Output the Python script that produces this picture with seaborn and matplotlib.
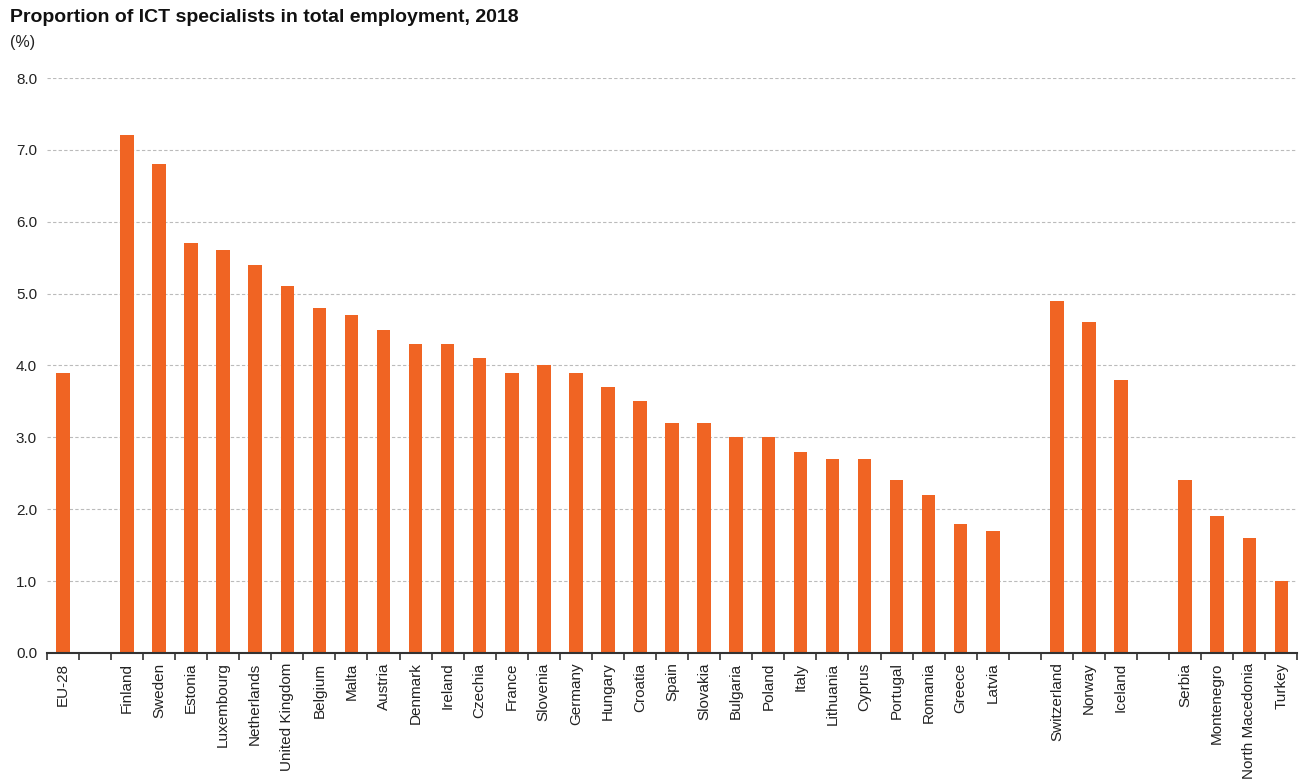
import numpy as np
import pandas as pd
import matplotlib.pyplot as plt
import seaborn as sns

# Data
eu = ["EU-28"]
eu_vals = [3.9]
members = ["Finland", "Sweden", "Estonia", "Luxembourg", "Netherlands", "United Kingdom",
           "Belgium", "Malta", "Austria", "Denmark", "Ireland", "Czechia", "France",
           "Slovenia", "Germany", "Hungary", "Croatia", "Spain", "Slovakia", "Bulgaria",
           "Poland", "Italy", "Lithuania", "Cyprus", "Portugal", "Romania", "Greece", "Latvia"]
member_vals = [7.2, 6.8, 5.7, 5.6, 5.4, 5.1, 4.8, 4.7, 4.5, 4.3, 4.3, 4.1, 3.9,
               4.0, 3.9, 3.7, 3.5, 3.2, 3.2, 3.0, 3.0, 2.8, 2.7, 2.7, 2.4, 2.2, 1.8, 1.7]
efta = ["Switzerland", "Norway", "Iceland"]
efta_vals = [4.9, 4.6, 3.8]
candidates = ["Serbia", "Montenegro", "North Macedonia", "Turkey"]
candidate_vals = [2.4, 1.9, 1.6, 1.0]

data = pd.DataFrame({
    "Country": eu + members + efta + candidates,
    "Value": eu_vals + member_vals + efta_vals + candidate_vals,
})

# slot order with empty gaps between groups
order = eu + [" "] + members + ["  "] + efta + ["   "] + candidates
labels = [o.strip() for o in order]

sns.set_style("white")
plt.rcParams["font.family"] = ["Liberation Sans", "DejaVu Sans"]

fig = plt.figure(figsize=(13, 7.8), dpi=100)
ax = fig.add_axes([0.036, 0.163, 0.962, 0.737])

sns.barplot(data=data, x="Country", y="Value", order=order, color="#F06423",
            saturation=1, width=0.42, linewidth=0, ax=ax, zorder=3)

ax.set_ylim(0, 8)
ax.set_xlim(-0.5, len(order) - 0.5)
ax.set_yticks(np.arange(0, 8.1, 1.0))
ax.set_yticklabels([f"{v:.1f}" for v in np.arange(0, 8.1, 1.0)], fontsize=11, color="#222222")
ax.yaxis.grid(True, linestyle=(0, (3, 2)), color="#bbbbbb", linewidth=0.8, zorder=0)
ax.tick_params(axis="y", length=0, pad=7)

# boundary ticks, labels in between
ax.set_xticks(np.arange(-0.5, len(order), 1.0))
ax.set_xticklabels([])
ax.tick_params(axis="x", which="major", bottom=True, length=5, width=1.2,
               color="#333333", direction="out")
ax.set_xticks(np.arange(len(order)), minor=True)
ax.set_xticklabels(labels, minor=True, rotation=90, fontsize=11, color="#222222")
ax.tick_params(axis="x", which="minor", bottom=True, length=0, pad=7)

ax.set_xlabel("")
ax.set_ylabel("")
for s in ["top", "right", "left"]:
    ax.spines[s].set_visible(False)
ax.spines["bottom"].set_color("#333333")
ax.spines["bottom"].set_linewidth(1.5)
ax.spines["bottom"].set_zorder(4)

fig.text(0.008, 0.977, "Proportion of ICT specialists in total employment, 2018",
         fontsize=14, fontweight="bold", va="center", ha="left", color="#111111")
fig.text(0.008, 0.946, "(%)", fontsize=11.5, va="center", ha="left", color="#222222")

plt.savefig("out.png", dpi=100)
plt.close()
